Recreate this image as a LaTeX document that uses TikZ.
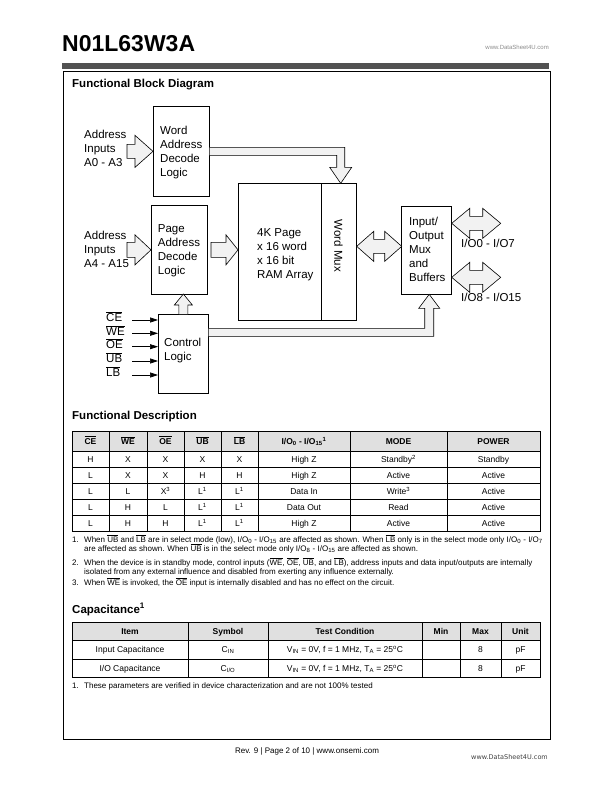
\documentclass[tikz,border=0pt]{standalone}
\usepackage{fontspec}
\setmainfont{Liberation Sans}
\newfontfamily\dvs{DejaVu Sans}
\usetikzlibrary{arrows.meta}
\newcommand\ol[1]{\ensuremath{\overline{\mbox{#1}}}}
\newcommand\fsz[2]{\fontsize{#1}{#2}\selectfont}
\newcommand\cf{}
% double block arrow: #1 left tip, #2 length, #3 head half, #4 shaft half, #5 head length
\newcommand\dblarrow[5]{%
  \draw[fat, shift={#1}] (0,0) -- (#5,-#3) -- (#5,-#4) -- (#2-#5,-#4) -- (#2-#5,-#3) -- (#2,0)
     -- (#2-#5,#3) -- (#2-#5,#4) -- (#5,#4) -- (#5,#3) -- cycle;}
% right block arrow: #1 tip, #2 length, #3 head half, #4 shaft half, #5 head length
\newcommand\rarrow[5]{%
  \draw[fat, shift={#1}] (0,0) -- (-#5,-#3) -- (-#5,-#4) -- (-#2,-#4) -- (-#2,#4) -- (-#5,#4) -- (-#5,#3) -- cycle;}
\newcommand\rowA[9]{%
  \node[cell] (a#1-1) at (90.5,#1+3) {#2};
  \node[cell] (a#1-2) at (128,#1+3) {#3};
  \node[cell] (a#1-3) at (165.5,#1+3) {#4};
  \node[cell] (a#1-4) at (202.5,#1+3) {#5};
  \node[cell] (a#1-5) at (239.5,#1+3) {#6};
  \node[cell] (a#1-6) at (304,#1+3) {#7};
  \node[cell] (a#1-7) at (398.5,#1+3) {#8};
  \node[cell] (a#1-8) at (493.5,#1+3) {#9};}
\newcommand\rowB[7]{%
  \node[cell] (b#1-1) at (130,#1+3) {#2};
  \node[cell] (b#1-2) at (228,#1+3) {#3};
  \node[cell] (b#1-3) at (345,#1+3) {#4};
  \node[cell] (b#1-4) at (441,#1+3) {#5};
  \node[cell] (b#1-5) at (480.5,#1+3) {#6};
  \node[cell] (b#1-6) at (520.5,#1+3) {#7};}
\begin{document}
\begin{tikzpicture}[x=1pt,y=-1pt,
  blk/.style={draw, line width=0.7pt, inner sep=0pt, anchor=north west},
  dtxt/.style={inner sep=0pt, align=left, anchor=west, font=\fsz{11.5}{14}},
  fat/.style={draw, line width=0.6pt, fill=black!5, line join=miter},
  sig/.style={line width=0.7pt, -{Triangle[length=8pt,width=5pt]}},
  lbl/.style={inner sep=0pt, anchor=west, font=\fsz{11.5}{14}},
  cell/.style={inner sep=0pt, anchor=base, font=\fsz{8.5}{10}\cf},
  grid/.style={line width=0.5pt},
  note/.style={inner sep=0pt, anchor=base west, font=\fsz{8}{9}},
  head/.style={inner sep=0pt, anchor=base west, font=\fsz{11.5}{14}\bfseries},
]
\useasboundingbox (0,0) rectangle (612,792);
\fill[white] (0,0) rectangle (612,792);

% page header
\node[inner sep=0pt, anchor=base west, font=\fsz{23}{26}\bfseries] (title) at (62,52) {N01L63W3A};
\node[inner sep=0pt, anchor=base east, font=\fsz{6}{7}, text=black!45] (wm1) at (549,49) {www.DataSheet4U.com};
\fill[black!68] (62,63) rectangle (549,69);
\draw[line width=0.8pt] (63,71) rectangle (550,739);

\node[head] (h1) at (72,88) {Functional Block Diagram};

% blocks
\node[blk, minimum width=56pt, minimum height=90pt] (word) at (153,106) {};
\node[blk, minimum width=56pt, minimum height=89pt] (page) at (151,205) {};
\node[blk, minimum width=50pt, minimum height=79pt] (ctrl) at (158,314) {};
\node[blk, minimum width=118pt, minimum height=137pt] (ram) at (238,183) {};
\node[blk, minimum width=35pt, minimum height=137pt] (mux) at (321,183) {};
\node[blk, minimum width=50pt, minimum height=88pt] (io) at (401,206) {};

% texts
\node[dtxt] (a03) at (84,148.3) {Address\\Inputs\\A0 - A3};
\node[dtxt] (wordt) at (160,152.5) {Word\\Address\\Decode\\Logic};
\node[dtxt] (a415) at (84,249.7) {Address\\Inputs\\A4 - A15};
\node[dtxt] (paget) at (157.7,250.5) {Page\\Address\\Decode\\Logic};
\node[dtxt] (ramt) at (257,254.7) {4K Page\\x 16 word\\x 16 bit\\RAM Array};
\node[inner sep=0pt, rotate=-90, font=\fsz{11.5}{14}] (muxt) at (338.5,246) {Word Mux};
\node[dtxt] (iot) at (409,249.7) {Input/\\Output\\Mux\\and\\Buffers};
\node[lbl] (io07) at (461,243) {I/O0 - I/O7};
\node[lbl] (io815) at (461,297) {I/O8 - I/O15};
\node[dtxt] (ctrlt) at (164,350.3) {Control\\Logic};

% control inputs
\foreach \n/\y/\t in {ce/320/CE, we/333.3/WE, oe/346.7/OE, ub/361/UB, lb/375/LB} {
  \coordinate (\n) at (132,\y);
  \draw[sig] (\n) -- (\n -| ctrl.west);
  \node[lbl] (\n-l) at (106,\y-3) {\ol{\t}};
}

% block arrows
\rarrow{(word.west)}{26}{16}{7}{18}
\rarrow{(page.west)}{24}{15}{7.5}{16}
\rarrow{(ram.west |- page.west)}{27}{15}{7.5}{12}
\dblarrow{([yshift=5.5pt]ram.east)}{45}{15}{7}{17}
\dblarrow{([yshift=27pt]io.east)}{49}{15}{7}{18}
\dblarrow{([yshift=-27pt]io.east)}{49}{15}{7}{18}
% word decode -> word mux bus
\draw[fat, shift={(word.east)}] (0,-4) -- (135,-4) -- (135,16) -- (142,16) -- (131,32) -- (120,16)
  -- (127,16) -- (127,4) -- (0,4);
% control -> I/O bus
\draw[fat, shift={(ctrl.east)}] (0,-25.5) -- (216,-25.5) -- (216,-45.5) -- (210,-45.5) -- (220.5,-59.5)
  -- (231,-45.5) -- (225,-45.5) -- (225,-17.5) -- (0,-17.5);
% control -> page decode
\draw[fat, shift={(ctrl.north)}] (-4.5,0) -- (-4.5,-9) -- (-9,-9) -- (0,-20) -- (9,-9) -- (4.5,-9) -- (4.5,0);

% Functional description
\node[head] (h2) at (72,419) {Functional Description};
\fill[black!12] (72,431) rectangle (540,451);
\draw[grid] (72,431) rectangle (540,531);
\foreach \x in {109,147,184,221,258,350,447} \draw[grid] (\x,431) -- (\x,531);
\foreach \y in {451,467,483,499,515} \draw[grid] (72,\y) -- (540,\y);
\renewcommand\cf{\bfseries}
\rowA{441}{\ol{CE}}{\ol{WE}}{\ol{OE}}{\ol{UB}}{\ol{LB}}{I/O\textsubscript{0} - I/O\textsubscript{15}\textsuperscript{1}}{MODE}{POWER}
\renewcommand\cf{}
\rowA{459}{H}{X}{X}{X}{X}{High Z}{Standby\textsuperscript{2}}{Standby}
\rowA{475}{L}{X}{X}{H}{H}{High Z}{Active}{Active}
\rowA{491}{L}{L}{X\textsuperscript{3}}{L\textsuperscript{1}}{L\textsuperscript{1}}{Data In}{Write\textsuperscript{3}}{Active}
\rowA{507}{L}{H}{L}{L\textsuperscript{1}}{L\textsuperscript{1}}{Data Out}{Read}{Active}
\rowA{523}{L}{H}{H}{L\textsuperscript{1}}{L\textsuperscript{1}}{High Z}{Active}{Active}

\node[note] (f1n) at (72,542.5) {1.};
\node[note] (f1a) at (84,542.5) {When \ol{UB} and \ol{LB} are in select mode (low), I/O\textsubscript{0} - I/O\textsubscript{15} are affected as shown. When \ol{LB} only is in the select mode only I/O\textsubscript{0} - I/O\textsubscript{7}};
\node[note] (f1b) at (84,551.5) {are affected as shown. When \ol{UB} is in the select mode only I/O\textsubscript{8} - I/O\textsubscript{15} are affected as shown.};
\node[note] (f2n) at (72,565.5) {2.};
\node[note] (f2a) at (84,565.5) {When the device is in standby mode, control inputs (\ol{WE}, \ol{OE}, \ol{UB}, and \ol{LB}), address inputs and data input/outputs are internally};
\node[note] (f2b) at (84,574) {isolated from any external influence and disabled from exerting any influence externally.};
\node[note] (f3n) at (72,585.5) {3.};
\node[note] (f3a) at (84,585.5) {When \ol{WE} is invoked, the \ol{OE} input is internally disabled and has no effect on the circuit.};

% Capacitance
\node[head] (h3) at (72,613) {Capacitance\textsuperscript{1}};
\fill[black!12] (72,622) rectangle (540,640);
\draw[grid] (72,622) rectangle (540,677);
\foreach \x in {188,268,422,460,501} \draw[grid] (\x,622) -- (\x,677);
\foreach \y in {640,659} \draw[grid] (72,\y) -- (540,\y);
\renewcommand\cf{\bfseries}
\rowB{631}{Item}{Symbol}{Test Condition}{Min}{Max}{Unit}
\renewcommand\cf{}
\rowB{649.5}{Input Capacitance}{C\textsubscript{IN}}{V\textsubscript{IN} = 0V, f = 1 MHz, T\textsubscript{A} = 25\textsuperscript{o}C}{}{8}{pF}
\rowB{668}{I/O Capacitance}{C\textsubscript{I/O}}{V\textsubscript{IN} = 0V, f = 1 MHz, T\textsubscript{A} = 25\textsuperscript{o}C}{}{8}{pF}
\node[note] (g1n) at (72,688.5) {1.};
\node[note] (g1a) at (84,688.5) {These parameters are verified in device characterization and are not 100\% tested};

% footer
\node[inner sep=0pt, anchor=base, font=\fsz{8}{10}] (foot) at (307,753) {Rev. 9 | Page 2 of 10 | www.onsemi.com};
\node[inner sep=0pt, anchor=base east, font=\dvs\fsz{6.5}{8}, text=black!75] (wm2) at (548,759) {www.DataSheet4U.com};
\end{tikzpicture}
\end{document}
